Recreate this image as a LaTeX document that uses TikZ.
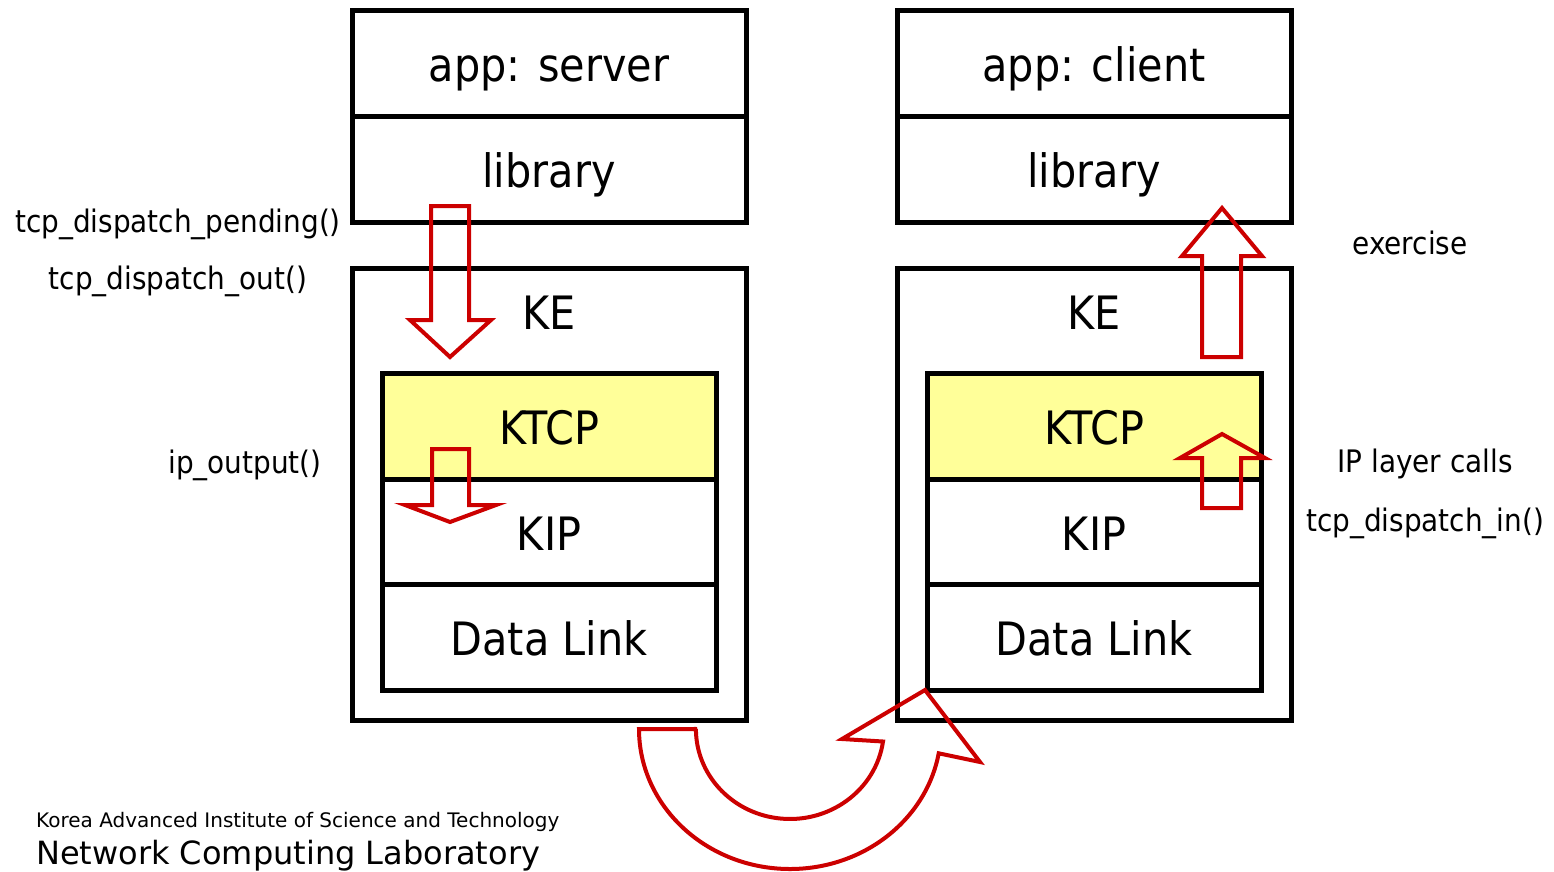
\documentclass[tikz,border=0pt]{standalone}
\usepackage{fontspec}
\setmainfont{DejaVu Sans Condensed}
\newfontfamily\footerfont{DejaVu Sans}
\definecolor{arrowred}{HTML}{CC0000}
\definecolor{layeryellow}{HTML}{FFFF99}
\tikzset{
  layer/.style={draw=black, line width=5pt, minimum width=394pt, minimum height=106pt,
    inner sep=0pt, text height=36pt, text depth=0pt, font=\fontsize{46}{52}\selectfont},
  stack/.style={layer, minimum width=334pt, minimum height=105.5pt},
  hot/.style={stack, fill=layeryellow},
  kebox/.style={draw=black, line width=5pt, minimum width=394pt, minimum height=452pt, inner sep=0pt},
  bigtext/.style={font=\fontsize{46}{52}\selectfont, inner sep=0pt, text height=36pt, text depth=0pt},
  note/.style={font=\fontsize{31}{36}\selectfont, inner sep=0pt},
  blockarrow/.style={draw=arrowred, line width=4pt, line join=miter, fill=none},
}
\begin{document}
\begin{tikzpicture}[x=1pt, y=1pt]
\useasboundingbox (0,0) rectangle (1554,-871);

% server side stack
\node[layer] (appS) at (549,-63) {app: server};
\node[layer] (libS) at (549,-169) {library};
\node[kebox] (keS) at (549,-494) {};
\node[bigtext] (keSl) at (549,-311) {KE};
\node[hot] (ktcpS) at (549,-426.5) {KTCP};
\node[stack] (kipS) at (549,-532) {KIP};
\node[stack] (dlS) at (549,-637.5) {Data Link};

% client side stack
\node[layer] (appC) at (1094,-63) {app: client};
\node[layer] (libC) at (1094,-169) {library};
\node[kebox] (keC) at (1094,-494) {};
\node[bigtext] (keCl) at (1094,-311) {KE};
\node[hot] (ktcpC) at (1094,-426.5) {KTCP};
\node[stack] (kipC) at (1094,-532) {KIP};
\node[stack] (dlC) at (1094,-637.5) {Data Link};

% call names
\node[note] (pend) at (178,-224) {tcp\_dispatch\_pending()};
\node[note] (dout) at (178,-281) {tcp\_dispatch\_out()};
\node[note] (ipout) at (245,-465) {ip\_output()};
\node[note] (exer) at (1410,-243) {exercise};
\node[note] (iplc) at (1425,-464) {IP layer calls};
\node[note] (din) at (1425,-523) {tcp\_dispatch\_in()};

% block arrows
\draw[blockarrow] (431,-206) -- (469,-206) -- (469,-320) -- (491,-320) -- (450,-357)
  -- (410,-320) -- (431,-320) -- cycle;
\draw[blockarrow] (432,-449) -- (469,-449) -- (469,-505) -- (496,-505) -- (450,-522)
  -- (405,-505) -- (432,-505) -- cycle;
\draw[blockarrow] (1202,-357) -- (1241,-357) -- (1241,-256) -- (1262,-256) -- (1222,-208)
  -- (1182,-256) -- (1202,-256) -- cycle;
\draw[blockarrow] (1202,-508) -- (1241,-508) -- (1241,-458) -- (1265,-458) -- (1222,-434)
  -- (1180,-458) -- (1202,-458) -- cycle;

% curved arrow from the server stack to the client stack
\draw[blockarrow] (697,-729) -- (639,-729)
  arc[start angle=180, end angle=350, x radius=151, y radius=140]
  -- (980,-762) -- (925,-690) -- (842,-739) -- (883,-741.5)
  arc[start angle=352, end angle=180, x radius=94, y radius=90] -- cycle;

% footer
\node[anchor=base west, font=\footerfont\fontsize{20}{24}\selectfont, inner sep=0pt] (inst) at (36,-827) {Korea Advanced Institute of Science and Technology};
\node[anchor=base west, font=\footerfont\fontsize{32}{38}\selectfont, inner sep=0pt] (lab) at (36,-864) {Network Computing Laboratory};
\end{tikzpicture}
\end{document}
